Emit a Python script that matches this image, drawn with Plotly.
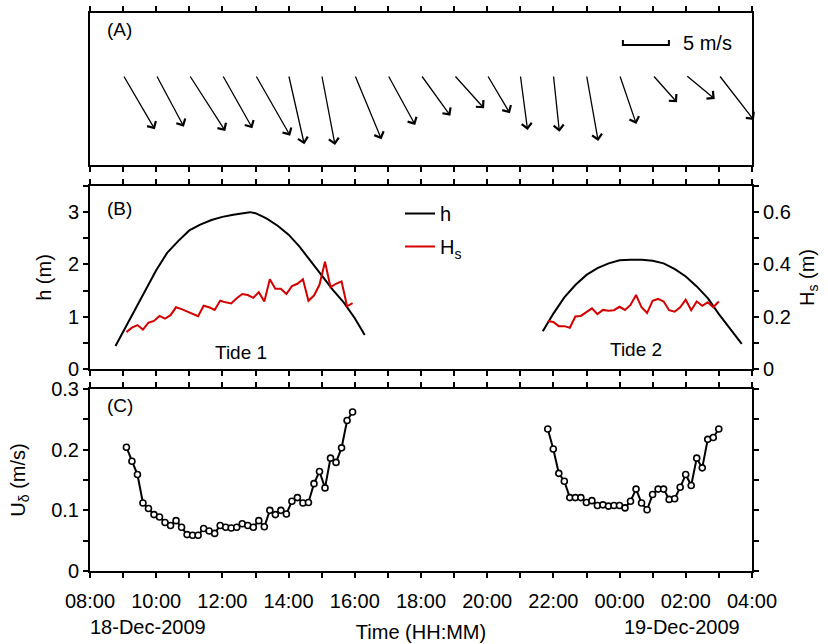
import plotly.graph_objects as go

# ---------------- data ----------------
time_tick_labels = ["08:00", "10:00", "12:00", "14:00", "16:00", "18:00",
                    "20:00", "22:00", "00:00", "02:00", "04:00"]
date_labels = ["18-Dec-2009", "19-Dec-2009"]
date_label_hour = [1.75, 17.9]          # hours after 08:00 where the date text sits

# wind vectors (hourly, hours after 08:00), components in m/s
wind_hour = [1, 2, 3, 4, 5, 6, 7, 8, 9, 10, 11, 12, 13, 14, 15, 16, 17, 18, 19]
wind_u = [3.45, 3.01, 3.91, 3.26, 3.77, 1.71, 1.45, 2.90, 2.97, 3.19,
          3.26, 2.47, 0.79, 0.65, 1.27, 1.82, 2.64, 3.15, 3.80]
wind_v = [-5.90, -5.62, -6.09, -5.79, -6.60, -7.53, -7.61, -6.99, -5.43, -4.42,
          -3.62, -4.16, -5.98, -6.16, -7.17, -5.33, -2.97, -2.61, -4.89]

# water depth h (m)
h1_hour = [0.77, 1.0, 1.33, 1.67, 2.0, 2.33, 2.67, 3.0, 3.33, 3.67, 4.0, 4.33, 4.67,
           4.83, 5.0, 5.33, 5.67, 6.0, 6.33, 6.67, 7.0, 7.33, 7.67, 8.0, 8.3]
h1 = [0.44, 0.71, 1.10, 1.50, 1.89, 2.22, 2.45, 2.65, 2.76, 2.85, 2.91, 2.95, 2.99,
      3.00, 2.98, 2.88, 2.74, 2.57, 2.34, 2.07, 1.79, 1.52, 1.27, 0.97, 0.65]
h2_hour = [13.68, 14.0, 14.33, 14.67, 15.0, 15.33, 15.67, 16.0, 16.33, 16.67, 17.0,
           17.33, 17.67, 18.0, 18.33, 18.67, 19.0, 19.33, 19.69]
h2 = [0.72, 1.06, 1.37, 1.61, 1.80, 1.93, 2.02, 2.08, 2.09, 2.09, 2.07,
      2.02, 1.91, 1.77, 1.58, 1.35, 1.05, 0.78, 0.48]

# 10-minute samples: tide 1 starts 09:06, tide 2 starts 21:50
tide1_start_hour = 1.1
tide2_start_hour = 13.83
sample_step_hour = 1 / 6

hs1 = [0.141, 0.158, 0.168, 0.151, 0.177, 0.184, 0.203, 0.193, 0.206, 0.236,
       0.229, 0.219, 0.210, 0.202, 0.242, 0.236, 0.226, 0.261, 0.255, 0.251,
       0.271, 0.287, 0.283, 0.272, 0.294, 0.258, 0.343, 0.307, 0.307, 0.287,
       0.317, 0.326, 0.343, 0.261, 0.281, 0.322, 0.410, 0.313, 0.326, 0.335,
       0.240, 0.252]
u1 = [0.204, 0.181, 0.159, 0.112, 0.103, 0.093, 0.089, 0.080, 0.075, 0.083,
      0.072, 0.060, 0.059, 0.059, 0.070, 0.066, 0.062, 0.075, 0.072, 0.071,
      0.072, 0.078, 0.075, 0.072, 0.083, 0.073, 0.100, 0.093, 0.100, 0.094,
      0.115, 0.121, 0.112, 0.113, 0.144, 0.164, 0.137, 0.186, 0.179, 0.203,
      0.248, 0.262]
hs2 = [0.184, 0.180, 0.164, 0.164, 0.158, 0.201, 0.203, 0.216, 0.232, 0.210,
       0.226, 0.223, 0.225, 0.238, 0.226, 0.245, 0.283, 0.236, 0.214, 0.261,
       0.268, 0.258, 0.225, 0.219, 0.236, 0.265, 0.225, 0.258, 0.242, 0.255,
       0.236, 0.258]
u2 = [0.234, 0.201, 0.161, 0.148, 0.121, 0.121, 0.121, 0.113, 0.116, 0.108,
      0.109, 0.107, 0.108, 0.108, 0.104, 0.115, 0.135, 0.112, 0.101, 0.126,
      0.135, 0.135, 0.118, 0.119, 0.138, 0.159, 0.141, 0.186, 0.170, 0.217,
      0.220, 0.234]

tide1_hour = [tide1_start_hour + i * sample_step_hour for i in range(len(hs1))]
tide2_hour = [tide2_start_hour + i * sample_step_hour for i in range(len(hs2))]

# ---------------- layout geometry ----------------
W, H = 828, 644
ML, MR, MT, MB = 90, 76, 13, 73
plot_w = W - ML - MR
plot_h = H - MT - MB
X_SPAN = 20.0
px_per_hour = plot_w / X_SPAN


def dom(top_px, bot_px):
    return [(H - MB - bot_px) / plot_h, (H - MB - top_px) / plot_h]


domA, domB, domC = dom(13, 165), dom(186, 369), dom(389, 571)

ARROW_PX_PER_MS = 9.2
hours_per_ms = ARROW_PX_PER_MS / px_per_hour
panelA_px = (domA[1] - domA[0]) * plot_h
spanA = panelA_px / ARROW_PX_PER_MS
tail_frac_from_top = 62 / 152
yA_range = [-spanA * (1 - tail_frac_from_top), spanA * tail_frac_from_top]

FONT = "Liberation Sans, Arial, sans-serif"
FS = 20
RED = "#d40000"

fig = go.Figure()

# panel A anchor trace (wind tails, invisible)
fig.add_trace(go.Scatter(x=wind_hour, y=[0] * len(wind_hour), mode="markers",
                         marker=dict(size=1, opacity=0), xaxis="x", yaxis="y",
                         showlegend=False, hoverinfo="skip"))

# panel B
fig.add_trace(go.Scatter(x=h1_hour, y=h1, mode="lines", name="h",
                         line=dict(color="black", width=2), legendgroup="h",
                         xaxis="x2", yaxis="y2"))
fig.add_trace(go.Scatter(x=h2_hour, y=h2, mode="lines", name="h", showlegend=False,
                         line=dict(color="black", width=2), legendgroup="h",
                         xaxis="x2", yaxis="y2"))
fig.add_trace(go.Scatter(x=tide1_hour, y=hs1, mode="lines", name="H<sub>s</sub>",
                         line=dict(color=RED, width=2), legendgroup="hs",
                         xaxis="x2", yaxis="y3"))
fig.add_trace(go.Scatter(x=tide2_hour, y=hs2, mode="lines", name="H<sub>s</sub>",
                         showlegend=False, line=dict(color=RED, width=2),
                         legendgroup="hs", xaxis="x2", yaxis="y3"))

# panel C
for xs, ys in ((tide1_hour, u1), (tide2_hour, u2)):
    fig.add_trace(go.Scatter(x=xs, y=ys, mode="lines+markers", showlegend=False,
                             line=dict(color="black", width=2),
                             marker=dict(symbol="circle", size=6, color="white",
                                         line=dict(color="black", width=1.6)),
                             xaxis="x3", yaxis="y4"))

tick_style = dict(ticks="outside", ticklen=5, tickwidth=1.5, tickcolor="black")
axis_common = dict(showline=True, linecolor="black", linewidth=2, showgrid=False,
                   zeroline=False, tickfont=dict(family=FONT, size=FS, color="black"),
                   **tick_style)


def minor(d):
    return dict(dtick=d, tick0=0, **tick_style)


xcommon = dict(axis_common, range=[0, X_SPAN], tickmode="array",
               tickvals=[2 * i for i in range(len(time_tick_labels))],
               ticktext=time_tick_labels, minor=minor(1), mirror="ticks", domain=[0, 1])

annotations = []
for t, u, v in zip(wind_hour, wind_u, wind_v):
    annotations.append(dict(x=t + u * hours_per_ms, y=v, ax=t, ay=0,
                            xref="x", yref="y", axref="x", ayref="y",
                            text="", showarrow=True, arrowhead=4, arrowsize=1.5,
                            arrowwidth=1.3, arrowcolor="black", standoff=0,
                            startstandoff=0))

# scale bar 5 m/s
bar_x0 = 16.1
bar_y = (75 - 45) / ARROW_PX_PER_MS
bar_tick = 5 / ARROW_PX_PER_MS
bar_x1 = bar_x0 + 5 * hours_per_ms
shapes = [dict(type="path", xref="x", yref="y",
               path=f"M{bar_x0},{bar_y + bar_tick} L{bar_x0},{bar_y} L{bar_x1},{bar_y} L{bar_x1},{bar_y + bar_tick}",
               line=dict(color="black", width=2))]
annotations.append(dict(x=bar_x1 + 0.38, y=bar_y + 0.25, xref="x", yref="y", text="5 m/s",
                        showarrow=False, xanchor="left", yanchor="middle",
                        font=dict(family=FONT, size=FS, color="black")))

panel_labels = [("(A)", "x domain", "y domain", 1 - 17 / 152),
                ("(B)", "x2 domain", "y2 domain", 1 - 22 / 183),
                ("(C)", "x3 domain", "y4 domain", 1 - 17 / 182)]
for lab, xr, yr, yy in panel_labels:
    annotations.append(dict(x=15 / plot_w, y=yy, xref=xr, yref=yr, text=lab,
                            showarrow=False, xanchor="left", yanchor="middle",
                            font=dict(family=FONT, size=FS - 1, color="black")))

annotations.append(dict(x=4.55, y=0.31, xref="x2", yref="y2", text="Tide 1",
                        showarrow=False, font=dict(family=FONT, size=FS - 1, color="black")))
annotations.append(dict(x=16.5, y=0.37, xref="x2", yref="y2", text="Tide 2",
                        showarrow=False, font=dict(family=FONT, size=FS - 1, color="black")))

for lab, hx in zip(date_labels, date_label_hour):
    annotations.append(dict(x=hx, y=-(627 - 571) / plot_h, xref="x3", yref="paper",
                            text=lab, showarrow=False, yanchor="middle",
                            font=dict(family=FONT, size=FS, color="black")))

fig.update_layout(
    width=W, height=H, margin=dict(l=ML, r=MR, t=MT, b=MB, autoexpand=False),
    paper_bgcolor="white", plot_bgcolor="white",
    font=dict(family=FONT, size=FS, color="black"),
    showlegend=True,
    legend=dict(x=(400 - ML) / plot_w, y=(H - MB - 194) / plot_h, xanchor="left",
                yanchor="top", bgcolor="rgba(0,0,0,0)", borderwidth=0,
                font=dict(family=FONT, size=FS, color="black"), tracegroupgap=4),
    xaxis=dict(xcommon, anchor="y", showticklabels=False),
    yaxis=dict(domain=domA, range=yA_range, showline=True, mirror=True, linecolor="black",
               linewidth=2, showgrid=False, zeroline=False, ticks="", showticklabels=False,
               anchor="x"),
    xaxis2=dict(xcommon, anchor="y2", showticklabels=False),
    yaxis2=dict(axis_common, domain=domB, range=[0, 3.5], anchor="x2", side="left",
                tickmode="array", tickvals=[0, 1, 2, 3], minor=minor(0.5),
                title=dict(text="h (m)", standoff=11, font=dict(family=FONT, size=FS))),
    yaxis3=dict(axis_common, overlaying="y2", range=[0, 0.7], anchor="x2", side="right",
                tickmode="array", tickvals=[0, 0.2, 0.4, 0.6], ticktext=["0", "0.2", "0.4", "0.6"],
                minor=minor(0.1),
                title=dict(text="H<sub>s</sub> (m)", standoff=10, font=dict(family=FONT, size=FS))),
    xaxis3=dict(xcommon, anchor="y4", showticklabels=True, ticklabelstandoff=6,
                title=dict(text="Time (HH:MM)", standoff=14, font=dict(family=FONT, size=FS))),
    yaxis4=dict(axis_common, domain=domC, range=[0, 0.3], anchor="x3", mirror="ticks",
                tickmode="array", tickvals=[0, 0.1, 0.2, 0.3], ticktext=["0", "0.1", "0.2", "0.3"],
                minor=minor(0.05),
                title=dict(text="U<sub>δ</sub> (m/s)", standoff=20, font=dict(family=FONT, size=FS))),
    annotations=annotations,
    shapes=shapes,
)

fig.write_html("out.html", config={"displayModeBar": False},
               post_script="document.body.style.margin='0px';")
